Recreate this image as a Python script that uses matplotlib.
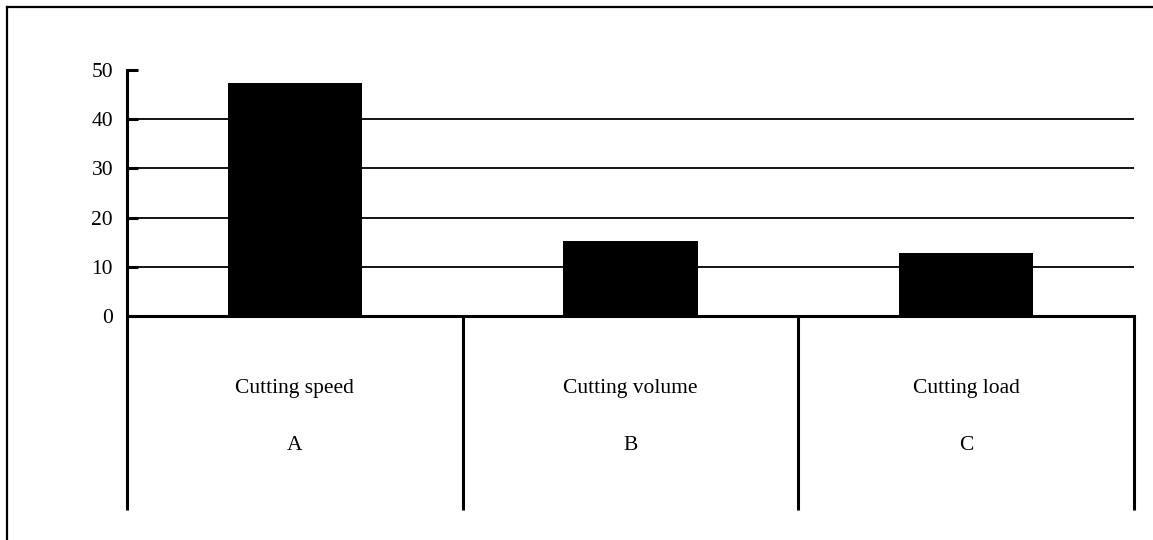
import matplotlib
matplotlib.use("Agg")
import matplotlib.pyplot as plt
from matplotlib.lines import Line2D
import matplotlib.transforms as mtransforms

categories = ["Cutting speed", "Cutting volume", "Cutting load"]
letters = ["A", "B", "C"]
values = [47.4, 15.2, 12.8]
yticks = [0, 10, 20, 30, 40, 50]

plt.rcParams['font.family'] = ['Liberation Serif', 'DejaVu Serif']

fig = plt.figure(figsize=(11.53, 5.40), dpi=100)
ax = fig.add_axes([127/1153, 1-316/540, (1134-127)/1153, (316-70)/540])

x = list(range(len(categories)))
ax.bar(x, values, width=0.40, color='black', zorder=3)
ax.set_xlim(-0.5, len(categories) - 0.5)
ax.set_ylim(0, 50)
ax.set_yticks(yticks)
ax.set_yticklabels([str(t) for t in yticks], fontsize=15.5)
ax.tick_params(axis='y', direction='in', length=8, width=2.2, pad=10)
ax.set_xticks([])

for t in yticks[1:-1]:
    ax.axhline(t, color='black', lw=1.3, zorder=1)

for s in ['top', 'right']:
    ax.spines[s].set_visible(False)
ax.spines['bottom'].set_linewidth(2.2)
ax.spines['left'].set_linewidth(2.2)

trans = mtransforms.blended_transform_factory(ax.transData, ax.transAxes)
bottom_y = -(510-316)/246
for xb in [-0.5, 0.5, 1.5, 2.5]:
    ax.add_line(Line2D([xb, xb], [0, bottom_y], transform=trans, color='black',
                       lw=2.2, clip_on=False, solid_capstyle='butt'))

for i, (c, l) in enumerate(zip(categories, letters)):
    ax.text(i, -(388-316)/246, c, transform=trans, ha='center', va='center', fontsize=15.5)
    ax.text(i, -(446-316)/246, l, transform=trans, ha='center', va='center', fontsize=15.5)

fig.add_artist(Line2D([7/1153, 1], [1-7/540, 1-7/540], transform=fig.transFigure,
                      color='black', lw=1.6))
fig.add_artist(Line2D([7/1153, 7/1153], [0, 1-7/540], transform=fig.transFigure,
                      color='black', lw=1.6))

fig.savefig("out.png", dpi=100)
